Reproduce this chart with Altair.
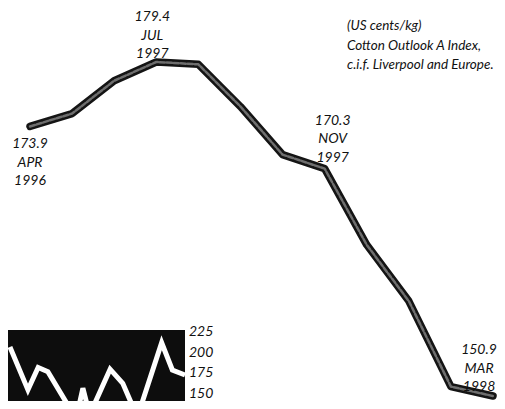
import altair as alt
import pandas as pd

# ---- main series (US cents/kg) ----
main_idx = list(range(12))
main_vals = [173.9, 175.0, 177.8, 179.4, 179.2, 175.6, 171.5, 170.3, 163.8, 159.0, 151.7, 150.9]

# ---- annotated points ----
ann_idx = [0, 3, 7, 11]
ann_vals = [173.9, 179.4, 170.3, 150.9]
ann_month = ["APR", "JUL", "NOV", "MAR"]
ann_year = ["1996", "1997", "1997", "1998"]

# ---- inset long-term series ----
inset_year = [1980.0, 1981.85, 1982.9, 1983.9, 1986.8, 1987.5, 1988.2, 1990.3, 1991.6, 1993.1, 1995.6, 1996.7, 1998.0]
inset_vals = [207, 155, 182, 177, 120, 157, 125, 180, 163, 122, 212, 179, 173]
inset_ticks = [225, 200, 175, 150]

note_lines = ["(US cents/kg)", "Cotton Outlook A Index,", "c.i.f. Liverpool and Europe."]

FONT = "Lato"

df_main = pd.DataFrame({"i": main_idx, "v": main_vals})
df_ann = pd.DataFrame({
    "i": ann_idx, "v": ann_vals,
    "label": [f"{v}\n{m}\n{y}" for v, m, y in zip(ann_vals, ann_month, ann_year)],
    "month": ann_month,
})

xs = alt.Scale(domain=[0, 11], range=[22, 485], nice=False)
ys = alt.Scale(domain=[150.9, 179.4], range=[388, 54], nice=False)
X = alt.X("i:Q", scale=xs, axis=None)
Y = alt.Y("v:Q", scale=ys, axis=None)

line_dark = alt.Chart(df_main).mark_line(
    color="#141414", strokeWidth=7.5, strokeJoin="round", strokeCap="round"
).encode(X, Y)
line_light = alt.Chart(df_main).mark_line(
    color="#6e6e6e", strokeWidth=2.5, strokeJoin="round", strokeCap="round", strokeDash=[5, 2]
).encode(X, Y)

offsets = {"APR": (0, 18), "JUL": (-4, -45), "NOV": (8, -48), "MAR": (-14, -46)}
ann_layers = []
for m in ann_month:
    dx, dy = offsets[m]
    ann_layers.append(
        alt.Chart(df_ann).transform_filter(alt.datum.month == m).mark_text(
            font=FONT, fontStyle="italic", fontSize=14, lineBreak="\n", lineHeight=18.5,
            align="center", baseline="middle", dx=dx, dy=dy, color="#111"
        ).encode(X, Y, text="label:N")
    )

note = alt.Chart(pd.DataFrame({"t": ["\n".join(note_lines)]})).mark_text(
    font=FONT, fontStyle="italic", fontSize=13.5, lineBreak="\n", lineHeight=19.5,
    align="left", baseline="middle", color="#111"
).encode(x=alt.value(339), y=alt.value(18), text="t:N")

main = alt.layer(line_dark, line_light, *ann_layers, note)

# ---- inset ----
ixs = alt.Scale(domain=[1979.8, 1998.0], range=[0, 177], nice=False)
iys = alt.Scale(domain=[150, 225], range=[386, 324], nice=False)
df_inset = pd.DataFrame({"yr": inset_year, "v": inset_vals})
df_box = pd.DataFrame({"x1": [1979.8], "x2": [1998.0], "y1": [120], "y2": [227.5]})
df_ticks = pd.DataFrame({"t": inset_ticks, "x": [1998.0] * len(inset_ticks)})

box = alt.Chart(df_box).mark_rect(color="#0d0d0d", clip=True).encode(
    x=alt.X("x1:Q", scale=ixs, axis=None), x2="x2:Q",
    y=alt.Y("y1:Q", scale=iys, axis=None), y2="y2:Q",
)
iline = alt.Chart(df_inset).mark_line(
    color="white", strokeWidth=5, strokeJoin="miter", clip=True
).encode(
    x=alt.X("yr:Q", scale=ixs, axis=None),
    y=alt.Y("v:Q", scale=iys, axis=None),
)
ilabels = alt.Chart(df_ticks).mark_text(
    font=FONT, fontStyle="italic", fontSize=14, align="left", baseline="middle", dx=4, color="#111"
).encode(
    x=alt.X("x:Q", scale=ixs, axis=None),
    y=alt.Y("t:Q", scale=iys, axis=None),
    text="t:N",
)
inset = alt.layer(box, iline, ilabels)

chart = alt.layer(main, inset).resolve_scale(x="independent", y="independent").properties(
    width=489, height=393, padding=0, background="white",
    autosize=alt.AutoSizeParams(type="none"),
).configure_view(stroke=None)

chart.save("out.html", embed_options={"renderer": "svg", "actions": False})
